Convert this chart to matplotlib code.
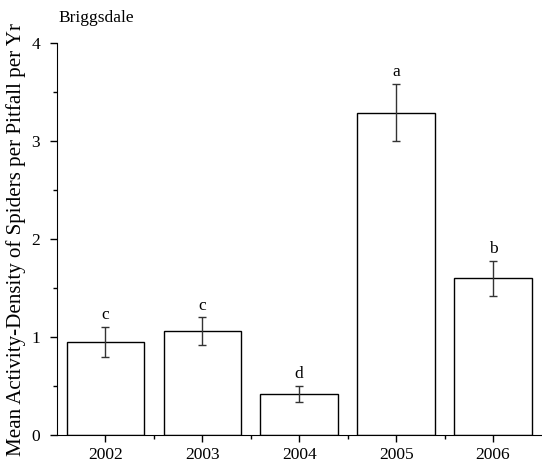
import numpy as np
import matplotlib.pyplot as plt
from matplotlib.ticker import MultipleLocator

# data
years = ['2002', '2003', '2004', '2005', '2006']
means = [0.95, 1.06, 0.42, 3.29, 1.60]
errors = [0.15, 0.14, 0.08, 0.29, 0.18]
letters = ['c', 'c', 'd', 'a', 'b']

plt.rcParams['font.family'] = ['Liberation Serif', 'DejaVu Serif']

fig = plt.figure(figsize=(5.42, 4.68), dpi=100)
ax = fig.add_axes([0.105, 0.0705, 0.894, 0.8375])

x = np.arange(len(years))
ax.bar(x, means, width=0.8, color='white', edgecolor='black', linewidth=1.0)
ax.errorbar(x, means, yerr=errors, fmt='none', ecolor='#333333',
            elinewidth=1.0, capsize=3.2, capthick=1.0)

for xi, m, e, lab in zip(x, means, errors, letters):
    ax.text(xi, m + e + 0.04, lab, ha='center', va='bottom', fontsize=12.5)

ax.set_xlim(-0.5, 4.5)
ax.set_ylim(0, 4)
ax.set_xticks(x)
ax.set_xticklabels(years)
ax.set_xticks(x[:-1] + 0.5, minor=True)
ax.yaxis.set_major_locator(MultipleLocator(1))
ax.yaxis.set_minor_locator(MultipleLocator(0.5))

ax.tick_params(which='major', direction='out', length=5, width=1.0, labelsize=12.5)
ax.tick_params(axis='y', which='major', pad=7)
ax.tick_params(which='minor', direction='out', length=3, width=1.0)

ax.spines['top'].set_visible(False)
ax.spines['right'].set_visible(False)

ax.set_ylabel('Mean Activity-Density of Spiders per Pitfall per Yr', fontsize=15.1, labelpad=4)
fig.text(0.107, 0.962, 'Briggsdale', fontsize=12.5, ha='left', va='center')

fig.savefig('out.png', dpi=100)
plt.close(fig)
